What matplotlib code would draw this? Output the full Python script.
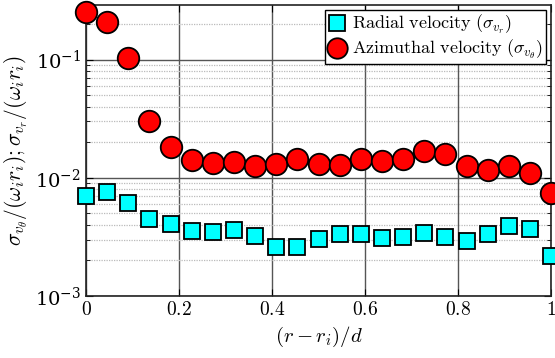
import numpy as np
import matplotlib
matplotlib.use("Agg")
import matplotlib.pyplot as plt
from matplotlib.ticker import LogLocator, NullFormatter

plt.rcParams['mathtext.fontset'] = 'cm'
plt.rcParams['font.family'] = 'serif'
plt.rcParams['font.serif'] = ['DejaVu Serif']

# 23 stations across the gap
x = np.linspace(0, 1, 23)

sigma_theta = [0.255, 0.21, 0.104, 0.030, 0.0183, 0.0142, 0.0134, 0.0136, 0.0126, 0.0130,
               0.0145, 0.0132, 0.0129, 0.0145, 0.0139, 0.0145, 0.0169, 0.0160, 0.0126,
               0.0117, 0.0126, 0.0110, 0.0075]
sigma_r = [0.0070, 0.0076, 0.0061, 0.0045, 0.0041, 0.00356, 0.00348, 0.0036, 0.00324, 0.0026,
           0.0026, 0.00304, 0.00335, 0.00335, 0.0031, 0.00316, 0.00342, 0.00316, 0.00292,
           0.00335, 0.0039, 0.0037, 0.00218]

xticks = [0, 0.2, 0.4, 0.6, 0.8, 1]
xticklabels = ['$0$', '$0.2$', '$0.4$', '$0.6$', '$0.8$', '$1$']

fig = plt.figure(figsize=(5.55, 3.58), dpi=100)
ax = fig.add_axes([0.155, 0.173, 0.838, 0.813])

ax.semilogy(x, sigma_r, 's', ms=11.5, mfc='#00ffff', mec='black', mew=1.3,
            label=r'$\mathrm{Radial\ velocity}\ (\sigma_{v_r})$', clip_on=False, zorder=5)
ax.semilogy(x, sigma_theta, 'o', ms=15.5, mfc='red', mec='black', mew=1.3,
            label=r'$\mathrm{Azimuthal\ velocity}\ (\sigma_{v_\theta})$', clip_on=False, zorder=6)

ax.set_xlim(0, 1)
ax.set_ylim(1e-3, 0.29)
ax.set_xticks(xticks)
ax.set_xticklabels(xticklabels)
ax.yaxis.set_major_locator(LogLocator(base=10, numticks=10))
ax.yaxis.set_minor_locator(LogLocator(base=10, subs=np.arange(2, 10), numticks=10))
ax.yaxis.set_minor_formatter(NullFormatter())

ax.grid(True, which='major', color='#555555', lw=1.0, ls='-')
ax.grid(True, which='minor', axis='y', color='#bbbbbb', lw=0.9, ls=(0, (1, 1)))
ax.set_axisbelow(True)

ax.tick_params(which='both', direction='in', top=True, right=True, labelsize=14)
ax.tick_params(which='major', length=5)
ax.tick_params(which='minor', length=3)
for s in ax.spines.values():
    s.set_linewidth(1.2)
    s.set_color('#222222')

ax.set_xlabel(r'$(r-r_i)/d$', fontsize=15)
ax.set_ylabel(r'$\sigma_{v_\theta}/(\omega_i r_i);\sigma_{v_r}/(\omega_i r_i)$', fontsize=15.5)
ax.yaxis.set_label_coords(-0.12, 0.5)

leg = ax.legend(loc='upper right', fontsize=13, frameon=True, fancybox=False,
                edgecolor='black', framealpha=1, borderpad=0.15, handletextpad=0.25,
                borderaxespad=0.3, labelspacing=0.1, handlelength=1.1, markerscale=0.95)
leg.get_frame().set_linewidth(1.0)
leg.set_zorder(10)

fig.savefig('out.png', dpi=100)
